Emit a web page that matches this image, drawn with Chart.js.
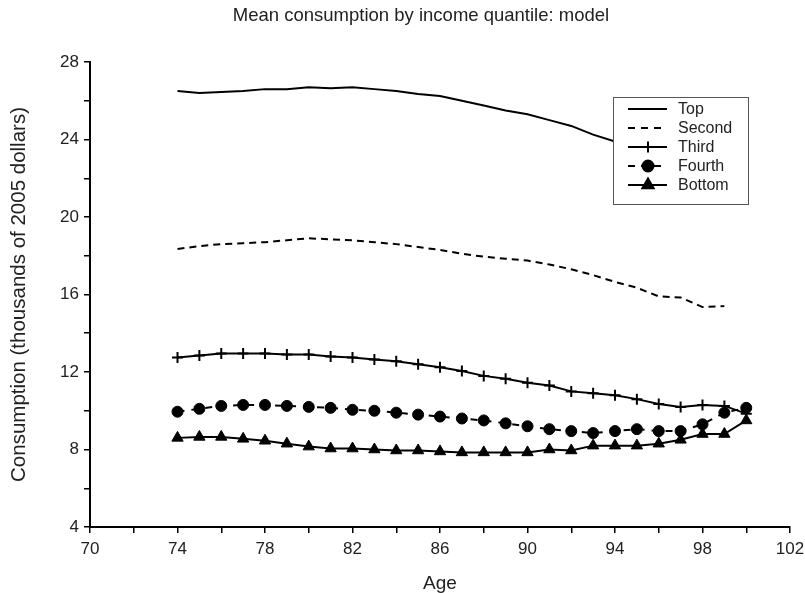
<!DOCTYPE html>
<html>
<head>
<meta charset="utf-8">
<script src="https://cdn.jsdelivr.net/npm/chart.js@4.4.1/dist/chart.umd.min.js"></script>
<style>
  html, body { margin: 0; padding: 0; background: #fff; }
  #wrap { width: 805px; height: 593px; }
</style>
</head>
<body>
<div id="wrap"><canvas id="chart" width="805" height="593"></canvas></div>
<script>
// ages 74..100
const ages = [74, 75, 76, 77, 78, 79, 80, 81, 82, 83, 84, 85, 86, 87, 88, 89, 90, 91, 92, 93, 94, 95, 96, 97, 98, 99, 100];

const top_ = [26.5, 26.4, 26.45, 26.5, 26.6, 26.6, 26.7, 26.65, 26.7, 26.6, 26.5, 26.35, 26.25, 26.0, 25.75, 25.5, 25.3, 25.0, 24.7, 24.25, 23.9, 23.6, 23.3, 23.0, 22.7, 22.4, 22.1];
const second = [18.35, 18.5, 18.6, 18.65, 18.7, 18.8, 18.9, 18.85, 18.8, 18.7, 18.6, 18.45, 18.3, 18.1, 17.95, 17.85, 17.75, 17.55, 17.3, 17.0, 16.65, 16.35, 15.9, 15.85, 15.35, 15.4];
const third = [12.75, 12.85, 12.95, 12.95, 12.95, 12.9, 12.9, 12.8, 12.75, 12.65, 12.55, 12.4, 12.25, 12.05, 11.8, 11.65, 11.45, 11.3, 11.0, 10.9, 10.8, 10.6, 10.35, 10.2, 10.3, 10.25, 9.85];
const fourth = [9.95, 10.1, 10.25, 10.3, 10.3, 10.25, 10.2, 10.15, 10.05, 10.0, 9.9, 9.8, 9.7, 9.6, 9.5, 9.35, 9.2, 9.05, 8.95, 8.85, 8.95, 9.05, 8.95, 8.95, 9.3, 9.9, 10.15];
const bottom = [8.6, 8.65, 8.65, 8.55, 8.45, 8.3, 8.15, 8.05, 8.05, 8.0, 7.95, 7.95, 7.9, 7.85, 7.85, 7.85, 7.85, 8.0, 7.95, 8.2, 8.2, 8.2, 8.3, 8.5, 8.8, 8.8, 9.5];

const xTicks = [70, 74, 78, 82, 86, 90, 94, 98, 102];
const yTicks = [4, 8, 12, 16, 20, 24, 28];

function pts(vals) {
  return vals.map((v, i) => ({x: ages[i], y: v}));
}

const FONT = 'Liberation Sans, Arial, sans-serif';
const TITLE = 'Mean consumption by income quantile: model';

const series = [
  {label: 'Top', data: top_, dash: [], style: false, r: 0},
  {label: 'Second', data: second, dash: [7, 5], style: false, r: 0},
  {label: 'Third', data: third, dash: [], style: 'cross', r: 5.5},
  {label: 'Fourth', data: fourth, dash: [7, 7], style: 'circle', r: 5.5},
  {label: 'Bottom', data: bottom, dash: [], style: 'triangle', r: 6.5},
];

// title + legend box drawn over the plot (the box hides the end of the Top line)
const boxLegend = {
  id: 'boxLegend',
  afterDatasetsDraw(chart) {
    const ctx = chart.ctx;
    ctx.save();
    ctx.fillStyle = '#222';
    ctx.font = '18.5px ' + FONT;
    ctx.textAlign = 'center';
    ctx.textBaseline = 'middle';
    ctx.fillText(TITLE, 421, 16);

    const x0 = 613, y0 = 97, w = 135, h = 107;
    ctx.textAlign = 'left';
    ctx.fillStyle = '#fff';
    ctx.fillRect(x0, y0, w, h);
    ctx.strokeStyle = '#555';
    ctx.lineWidth = 1;
    ctx.strokeRect(x0 + 0.5, y0 + 0.5, w, h);
    ctx.font = '16px ' + FONT;
    series.forEach((s, i) => {
      const y = y0 + 12 + i * 19;
      ctx.strokeStyle = '#000';
      ctx.lineWidth = 2;
      ctx.setLineDash(s.dash.length ? [7, 6] : []);
      ctx.beginPath();
      ctx.moveTo(x0 + 15, y);
      ctx.lineTo(x0 + 54, y);
      ctx.stroke();
      ctx.setLineDash([]);
      if (s.style) {
        ctx.fillStyle = '#000';
        Chart.helpers.drawPoint(ctx, {pointStyle: s.style, radius: s.r, borderWidth: s.style === 'cross' ? 2 : 1, rotation: 0}, x0 + 35, y);
        if (s.style !== 'cross') ctx.fill();
      }
      ctx.fillStyle = '#222';
      ctx.fillText(s.label, x0 + 65, y + 1);
    });
    ctx.restore();
  }
};

new Chart(document.getElementById('chart'), {
  type: 'line',
  data: {
    datasets: series.map(s => ({
      label: s.label,
      data: pts(s.data),
      borderColor: '#000',
      backgroundColor: '#000',
      borderWidth: 2,
      borderDash: s.dash,
      pointStyle: s.style || 'circle',
      pointRadius: s.r,
      pointBorderWidth: s.style === 'cross' ? 2 : 1,
      pointBackgroundColor: '#000',
      pointBorderColor: '#000',
      tension: 0,
    })),
  },
  options: {
    responsive: false,
    animation: false,
    layout: {padding: {left: 0, right: 15, top: 62, bottom: 0}},
    plugins: {
      legend: {display: false},
      tooltip: {enabled: false},
      title: {display: false},
    },
    scales: {
      x: {
        type: 'linear',
        min: 70,
        max: 102,
        afterFit: s => { s.height = 66; s.paddingRight = 0; },
        ticks: {
          stepSize: 2,
          autoSkip: false,
          maxRotation: 0,
          color: '#222',
          font: {family: FONT, size: 17},
          padding: 6,
          callback: v => xTicks.includes(v) ? String(v) : '',
        },
        grid: {drawOnChartArea: false, drawTicks: true, tickLength: 6, color: '#000', lineWidth: 1.5},
        border: {color: '#000', width: 2},
        title: {display: true, text: 'Age', color: '#222', font: {family: FONT, size: 19, lineHeight: 1}, padding: {top: 4, bottom: 0}},
      },
      y: {
        min: 4,
        max: 28,
        afterFit: s => { s.width = 90; },
        ticks: {
          stepSize: 2,
          autoSkip: false,
          color: '#222',
          font: {family: FONT, size: 17},
          padding: 5,
          callback: v => yTicks.includes(v) ? String(v) : '',
        },
        grid: {drawOnChartArea: false, drawTicks: true, tickLength: 6, color: '#000', lineWidth: 1.5},
        border: {color: '#000', width: 2},
        title: {display: true, text: 'Consumption (thousands of 2005 dollars)', color: '#222', font: {family: FONT, size: 20.5}, padding: {top: 7, bottom: 0}},
      },
    },
  },
  plugins: [boxLegend],
});
</script>
</body>
</html>
